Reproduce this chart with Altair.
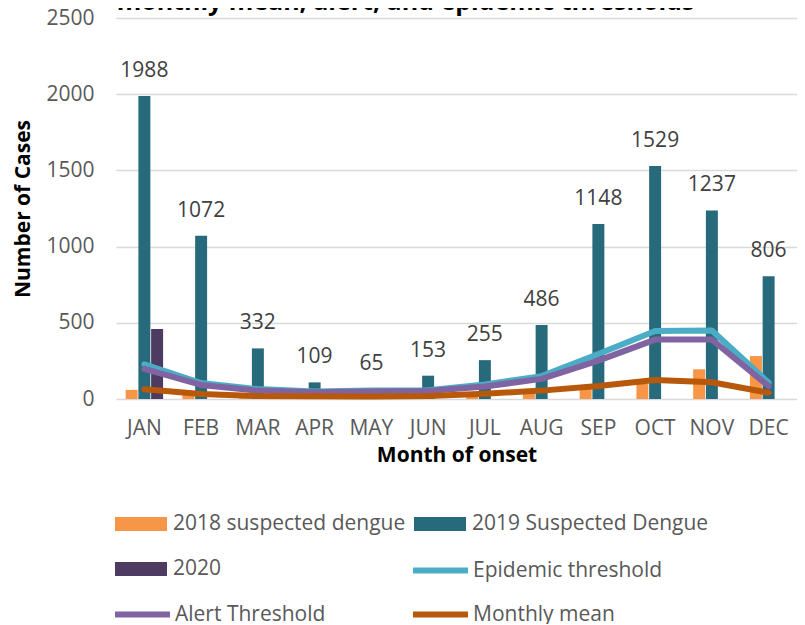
import altair as alt
import pandas as pd

months = ["JAN", "FEB", "MAR", "APR", "MAY", "JUN", "JUL", "AUG", "SEP", "OCT", "NOV", "DEC"]
cases_2018 = [60, 45, 10, 8, 8, 10, 15, 35, 75, 100, 195, 282]
cases_2019 = [1988, 1072, 332, 109, 65, 153, 255, 486, 1148, 1529, 1237, 806]
cases_2020 = [460, None, None, None, None, None, None, None, None, None, None, None]
epidemic_threshold = [228, 105, 65, 50, 55, 58, 95, 150, 295, 446, 450, 107]
alert_threshold = [198, 92, 55, 45, 50, 52, 82, 132, 252, 390, 390, 85]
monthly_mean = [64, 33, 20, 18, 17, 20, 35, 55, 85, 125, 110, 41]

bar_series = ["2018 suspected dengue", "2019 Suspected Dengue", "2020"]
bar_colors = ["#F79646", "#276A7C", "#4D3B62"]
line_series = ["Epidemic threshold", "Alert Threshold", "Monthly mean"]
line_colors = ["#4BACC6", "#8064A2", "#B8580A"]

FONT = "Open Sans"
GREY = "#595959"


def frame(values, name):
    rows = [{"month": m, "value": v, "series": name} for m, v in zip(months, values) if v is not None]
    return pd.DataFrame(rows)


x_enc = alt.X(
    "month:N",
    sort=months,
    scale=alt.Scale(domain=months, paddingInner=0.34, paddingOuter=0.17),
    axis=alt.Axis(
        title="Month of onset",
        labelAngle=0,
        labelFontSize=21,
        labelColor=GREY,
        labelFont=FONT,
        labelPadding=18,
        domain=False,
        ticks=False,
        titleFontSize=21,
        titleFont=FONT,
        titleFontWeight="bold",
        titleColor="black",
        titlePadding=6,
    ),
)
y_enc = alt.Y(
    "value:Q",
    scale=alt.Scale(domain=[0, 2500], nice=False),
    axis=alt.Axis(
        title="Number of Cases",
        values=[0, 500, 1000, 1500, 2000, 2500],
        format="d",
        labelFontSize=21,
        labelColor=GREY,
        labelFont=FONT,
        labelPadding=22,
        domain=False,
        ticks=False,
        grid=True,
        gridColor="#D9D9D9",
        gridWidth=1.5,
        titleFontSize=21,
        titleFont=FONT,
        titleFontWeight="bold",
        titleColor="black",
        titlePadding=12,
    ),
)
xoff_enc = alt.XOffset("series:N", scale=alt.Scale(domain=bar_series, paddingInner=0.06))

RECT_PATH = "M-1,-0.27H1V0.27H-1Z"


def legend(lx, ly, kind):
    common = dict(
        orient="none",
        legendX=lx,
        legendY=ly,
        title=None,
        labelFontSize=21,
        labelColor=GREY,
        labelFont=FONT,
        labelLimit=400,
        padding=0,
    )
    if kind == "bar":
        return alt.Legend(symbolType=RECT_PATH, symbolSize=2704, symbolStrokeWidth=0, labelOffset=6, **common)
    return alt.Legend(symbolType="stroke", symbolSize=3025, symbolStrokeWidth=6, labelOffset=2, **common)


bar_values = [cases_2018, cases_2019, cases_2020]
bar_legend_pos = [(-1, 480), (298, 480), (-1, 525)]
layers = []
for name, vals, col, pos in zip(bar_series, bar_values, bar_colors, bar_legend_pos):
    layers.append(
        alt.Chart(frame(vals, name))
        .mark_bar()
        .encode(
            x=x_enc,
            y=y_enc,
            xOffset=xoff_enc,
            color=alt.Color("series:N", scale=alt.Scale(domain=[name], range=[col]), legend=legend(pos[0], pos[1], "bar")),
        )
    )

line_values = [epidemic_threshold, alert_threshold, monthly_mean]
line_legend_pos = [(294, 522), (-4, 566), (294, 566)]
for name, vals, col, pos in zip(line_series, line_values, line_colors, line_legend_pos):
    layers.append(
        alt.Chart(frame(vals, name))
        .mark_line(strokeWidth=6, strokeCap="round", strokeJoin="round")
        .encode(
            x=x_enc,
            y=y_enc,
            color=alt.Color("series:N", scale=alt.Scale(domain=[name], range=[col]), legend=legend(pos[0], pos[1], "line")),
        )
    )

labels = (
    alt.Chart(frame(cases_2019, "2019 Suspected Dengue"))
    .mark_text(dy=-25, fontSize=21, color="#404040", font=FONT)
    .encode(x=x_enc, y=y_enc, text=alt.Text("value:Q"))
)
layers.append(labels)

chart = (
    alt.layer(*layers)
    .resolve_scale(color="independent")
    .properties(
        width=681,
        height=381,
        autosize=alt.AutoSizeParams(type="none"),
        padding={"left": 108, "top": 10, "right": 0, "bottom": 225},
        title=alt.TitleParams(
            "monthly mean, alert, and epidemic thresholds",
            fontSize=25,
            font=FONT,
            fontWeight="bold",
            color="black",
            anchor="middle",
            dx=-51,
            offset=-8,
        ),
    )
    .configure_view(stroke=None)
)

chart.save("out.html", embed_options={"renderer": "svg", "actions": False})
